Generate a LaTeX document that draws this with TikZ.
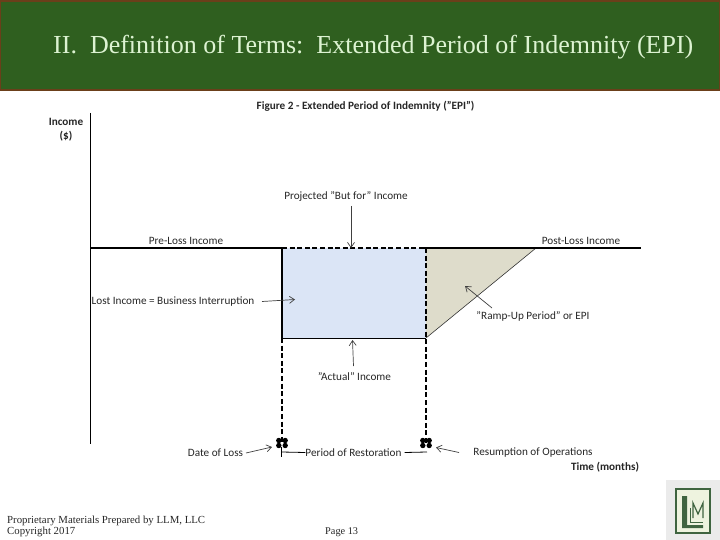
\documentclass[tikz,border=0pt]{standalone}
\usepackage{fontspec}
\setmainfont{Liberation Serif}
\setsansfont{Carlito}
\usetikzlibrary{arrows.meta}
\definecolor{hdrgreen}{HTML}{2F5F1F}
\definecolor{hdrbrown}{HTML}{6B3F1A}
\definecolor{titlecol}{HTML}{DDF3D2}
\definecolor{lossblue}{HTML}{DBE5F6}
\definecolor{rampfill}{HTML}{DEDCCB}
\definecolor{logogreen}{HTML}{3F6440}
\definecolor{logopaper}{HTML}{EEF3DF}
\tikzset{
  lbl/.style={font=\sffamily\fontsize{11.2}{13}\selectfont,inner sep=0pt,text=black!85},
  blbl/.style={lbl,font=\sffamily\bfseries\fontsize{11.2}{13}\selectfont},
  foot/.style={font=\fontsize{10.8}{12}\selectfont,inner sep=0pt,anchor=base west,text=black!85},
  pointer/.style={draw=black!75,line width=0.7pt,-{Straight Barb[length=5pt,width=7pt]}},
  heavy/.style={line width=1.8pt,black},
  dashline/.style={line width=1.8pt,black,dash pattern=on 5pt off 2.6pt},
}
\newcommand{\clover}[1]{%
  \foreach \dx in {-3.2,3.2}{\foreach \dy in {-2.5,2.5}{
    \fill[black] ([xshift=\dx pt,yshift=\dy pt]#1) circle (2.7pt);}}}
\begin{document}
\begin{tikzpicture}[x=1pt,y=-1pt]
\useasboundingbox (0,0) rectangle (720,540);
% header
\fill[hdrgreen,draw=hdrbrown,line width=2pt] (0,1) rectangle (720,90);
\node[anchor=base west,inner sep=0pt,text=titlecol,font=\fontsize{26}{30}\selectfont] (title) at (53,54) {II.\ \ Definition of Terms:\ \ Extended Period of Indemnity (EPI)};
% coordinates
\coordinate (origin) at (90.5,248);
\coordinate (axtop) at (90.5,113);
\coordinate (axbot) at (90.5,444);
\coordinate (tl) at (282,248);
\coordinate (tr) at (426,248);
\coordinate (bl) at (282,338);
\coordinate (br) at (426,338);
\coordinate (rampend) at (536,248);
\coordinate (lineend) at (641,248);
\coordinate (markl) at (282,443);
\coordinate (markr) at (426,443);
% fills
\fill[lossblue] (tl) rectangle (br);
\fill[rampfill] (tr) -- (rampend) -- (br) -- cycle;
\draw[black!80,line width=0.6pt] (br) -- (rampend);
% axes and income lines
\draw[black,line width=1pt] (axtop) -- (axbot);
\draw[heavy] (origin) -- (tl);
\draw[dashline] (tl) -- (tr);
\draw[heavy] (421,248) -- (lineend);
\draw[heavy] (tl) -- (bl);
\draw[black,line width=1pt] (bl) -- (br);
\draw[dashline] (tr) -- (markr);
\draw[dashline] (bl) -- (markl);
\clover{markl}
\clover{markr}
% labels
\node[blbl] (figtitle) at (365.5,106.5) {Figure 2 - Extended Period of Indemnity ("EPI")};
\node[blbl] (incomelbl) at (66,121.5) {Income};
\node[blbl] (dollar) at (66,136.5) {(\$)};
\node[lbl] (butfor) at (346,196.5) {Projected "But for" Income};
\node[lbl] (preloss) at (186,240.5) {Pre-Loss Income};
\node[lbl] (postloss) at (581,240.5) {Post-Loss Income};
\node[lbl] (lost) at (173,301.5) {Lost Income = Business Interruption};
\node[lbl] (ramp) at (533,316) {"Ramp-Up Period" or EPI};
\node[lbl] (actual) at (354.5,377) {"Actual" Income};
\node[lbl] (dateloss) at (215.5,452.5) {Date of Loss};
\node[lbl] (restore) at (353.5,452.5) {Period of Restoration};
\node[lbl] (resume) at (533,452.5) {Resumption of Operations};
\node[blbl] (time) at (605,467) {Time (months)};
% pointers
\coordinate (pbut) at (351,248);
\coordinate (plost) at (295,299.5);
\coordinate (pact) at (352.5,340);
\coordinate (pramp) at (465,286);
\coordinate (pdate) at (272,447);
\coordinate (pres) at (436,447.5);
\draw[pointer] (351,206) -- (pbut);
\draw[pointer] (262,301.5) -- (plost);
\draw[pointer] (353.5,366) -- (pact);
\draw[pointer] (492,308) -- (pramp);
\draw[pointer] (246,453) -- (pdate);
\draw[pointer] (459,452.5) -- (pres);
% period bracket
\draw[black,line width=0.8pt] (281.5,447) -- (281.5,457);
\draw[black,line width=0.8pt] (281.5,452) -- (restore.west);
\draw[black,line width=0.8pt] (restore.east) ++(3,0) -- (427,452);
% footer
\node[foot] (foot1) at (7,523) {Proprietary Materials Prepared by LLM, LLC};
\node[foot] (foot2) at (7,534) {Copyright 2017};
\node[foot,font=\fontsize{10.3}{12}\selectfont] (page) at (325,534) {Page 13};
% logo
\fill[black!8] (666,480) rectangle (720,540);
\fill[logopaper,draw=logogreen,line width=2pt] (676,489) rectangle (710,533);
\fill[logogreen] (682,496) rectangle (687,527) (682,525) rectangle (703,528);
\draw[logogreen,line width=1.2pt] (693,518) -- (693,503) -- (698,514) -- (703,503) -- (703,518);
\draw[logogreen,line width=1pt] (690,508) -- (690,522) -- (703,522);
\end{tikzpicture}
\end{document}
